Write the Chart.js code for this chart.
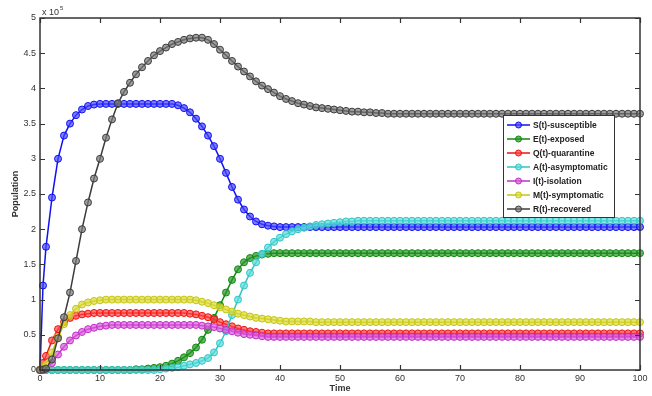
<!DOCTYPE html>
<html>
<head>
<meta charset="utf-8">
<script src="https://cdn.jsdelivr.net/npm/chart.js@4"></script>
<style>
  body { margin: 0; background: #fff; }
  canvas { display: block; }
</style>
</head>
<body>
<canvas id="myChart" width="652" height="396"></canvas>
<script>
// time grid (days) and populations in units of 10^5
let times = [0, 0.5, 1, 2, 3, 4, 5, 6, 7, 8, 9,
  10, 11, 12, 13, 14, 15, 16, 17, 18, 19,
  20, 21, 22, 23, 24, 25, 26, 27, 28, 29,
  30, 31, 32, 33, 34, 35, 36, 37, 38, 39,
  40, 41, 42, 43, 44, 45, 46, 47, 48, 49,
  50, 51, 52, 53, 54, 55, 56, 57, 58, 59,
  60, 61, 62, 63, 64, 65, 66, 67, 68, 69,
  70, 71, 72, 73, 74, 75, 76, 77, 78, 79,
  80, 81, 82, 83, 84, 85, 86, 87, 88, 89,
  90, 91, 92, 93, 94, 95, 96, 97, 98, 99,
  100];

let susceptible = [0, 1.2, 1.75, 2.45, 3.0, 3.33, 3.5, 3.62, 3.7, 3.75, 3.77,
  3.78, 3.78, 3.78, 3.78, 3.78, 3.78, 3.78, 3.78, 3.78, 3.78,
  3.78, 3.78, 3.78, 3.76, 3.72, 3.66, 3.57, 3.46, 3.33, 3.18,
  3.0, 2.8, 2.6, 2.42, 2.28, 2.18, 2.11, 2.07, 2.05, 2.04,
  2.03, 2.03, 2.03, 2.03, 2.03, 2.03, 2.03, 2.03, 2.03, 2.03,
  2.03, 2.03, 2.03, 2.03, 2.03, 2.03, 2.03, 2.03, 2.03, 2.03,
  2.03, 2.03, 2.03, 2.03, 2.03, 2.03, 2.03, 2.03, 2.03, 2.03,
  2.03, 2.03, 2.03, 2.03, 2.03, 2.03, 2.03, 2.03, 2.03, 2.03,
  2.03, 2.03, 2.03, 2.03, 2.03, 2.03, 2.03, 2.03, 2.03, 2.03,
  2.03, 2.03, 2.03, 2.03, 2.03, 2.03, 2.03, 2.03, 2.03, 2.03,
  2.03];

let exposed = [0, 0, 0, 0, 0, 0, 0, 0, 0, 0, 0,
  0, 0, 0, 0, 0, 0, 0.01, 0.01, 0.02, 0.03,
  0.04, 0.06, 0.09, 0.13, 0.18, 0.24, 0.32, 0.43, 0.57, 0.74,
  0.92, 1.1, 1.28, 1.43, 1.53, 1.59, 1.62, 1.64, 1.65, 1.66,
  1.66, 1.66, 1.66, 1.66, 1.66, 1.66, 1.66, 1.66, 1.66, 1.66,
  1.66, 1.66, 1.66, 1.66, 1.66, 1.66, 1.66, 1.66, 1.66, 1.66,
  1.66, 1.66, 1.66, 1.66, 1.66, 1.66, 1.66, 1.66, 1.66, 1.66,
  1.66, 1.66, 1.66, 1.66, 1.66, 1.66, 1.66, 1.66, 1.66, 1.66,
  1.66, 1.66, 1.66, 1.66, 1.66, 1.66, 1.66, 1.66, 1.66, 1.66,
  1.66, 1.66, 1.66, 1.66, 1.66, 1.66, 1.66, 1.66, 1.66, 1.66,
  1.66];

let quarantine = [0, 0.1, 0.2, 0.42, 0.58, 0.68, 0.74, 0.77, 0.79, 0.8, 0.81,
  0.81, 0.81, 0.81, 0.81, 0.81, 0.81, 0.81, 0.81, 0.81, 0.81,
  0.81, 0.81, 0.81, 0.81, 0.81, 0.8, 0.79, 0.77, 0.75, 0.72,
  0.68, 0.65, 0.62, 0.59, 0.57, 0.55, 0.54, 0.53, 0.52, 0.52,
  0.52, 0.52, 0.52, 0.52, 0.52, 0.52, 0.52, 0.52, 0.52, 0.52,
  0.52, 0.52, 0.52, 0.52, 0.52, 0.52, 0.52, 0.52, 0.52, 0.52,
  0.52, 0.52, 0.52, 0.52, 0.52, 0.52, 0.52, 0.52, 0.52, 0.52,
  0.52, 0.52, 0.52, 0.52, 0.52, 0.52, 0.52, 0.52, 0.52, 0.52,
  0.52, 0.52, 0.52, 0.52, 0.52, 0.52, 0.52, 0.52, 0.52, 0.52,
  0.52, 0.52, 0.52, 0.52, 0.52, 0.52, 0.52, 0.52, 0.52, 0.52,
  0.52];

let asymptomatic = [0, 0, 0, 0, 0, 0, 0, 0, 0, 0, 0,
  0, 0, 0, 0, 0, 0, 0, 0, 0, 0,
  0.01, 0.02, 0.03, 0.04, 0.06, 0.08, 0.1, 0.13, 0.17, 0.25,
  0.38, 0.55, 0.78, 1.0, 1.2, 1.38, 1.53, 1.65, 1.74, 1.82,
  1.88, 1.93, 1.97, 2.0, 2.02, 2.04, 2.06, 2.07, 2.08, 2.09,
  2.1, 2.11, 2.11, 2.12, 2.12, 2.12, 2.12, 2.12, 2.12, 2.12,
  2.12, 2.12, 2.12, 2.12, 2.12, 2.12, 2.12, 2.12, 2.12, 2.12,
  2.12, 2.12, 2.12, 2.12, 2.12, 2.12, 2.12, 2.12, 2.12, 2.12,
  2.12, 2.12, 2.12, 2.12, 2.12, 2.12, 2.12, 2.12, 2.12, 2.12,
  2.12, 2.12, 2.12, 2.12, 2.12, 2.12, 2.12, 2.12, 2.12, 2.12,
  2.12];

let isolation = [0, 0.005, 0.02, 0.1, 0.22, 0.33, 0.42, 0.49, 0.54, 0.58, 0.6,
  0.62, 0.63, 0.64, 0.64, 0.64, 0.64, 0.64, 0.64, 0.64, 0.64,
  0.64, 0.64, 0.64, 0.64, 0.64, 0.64, 0.64, 0.63, 0.62, 0.61,
  0.59, 0.57, 0.55, 0.53, 0.51, 0.5, 0.49, 0.48, 0.47, 0.47,
  0.47, 0.47, 0.47, 0.47, 0.47, 0.47, 0.47, 0.47, 0.47, 0.47,
  0.47, 0.47, 0.47, 0.47, 0.47, 0.47, 0.47, 0.47, 0.47, 0.47,
  0.47, 0.47, 0.47, 0.47, 0.47, 0.47, 0.47, 0.47, 0.47, 0.47,
  0.47, 0.47, 0.47, 0.47, 0.47, 0.47, 0.47, 0.47, 0.47, 0.47,
  0.47, 0.47, 0.47, 0.47, 0.47, 0.47, 0.47, 0.47, 0.47, 0.47,
  0.47, 0.47, 0.47, 0.47, 0.47, 0.47, 0.47, 0.47, 0.47, 0.47,
  0.47];

let symptomatic = [0, 0.03, 0.08, 0.25, 0.47, 0.65, 0.78, 0.87, 0.93, 0.96, 0.98,
  0.99, 1.0, 1.0, 1.0, 1.0, 1.0, 1.0, 1.0, 1.0, 1.0,
  1.0, 1.0, 1.0, 1.0, 1.0, 1.0, 0.99, 0.97, 0.95, 0.92,
  0.89, 0.86, 0.83, 0.8, 0.78, 0.76, 0.74, 0.73, 0.72, 0.71,
  0.7, 0.69, 0.69, 0.69, 0.69, 0.69, 0.68, 0.68, 0.68, 0.68,
  0.68, 0.68, 0.68, 0.68, 0.68, 0.68, 0.68, 0.68, 0.68, 0.68,
  0.68, 0.68, 0.68, 0.68, 0.68, 0.68, 0.68, 0.68, 0.68, 0.68,
  0.68, 0.68, 0.68, 0.68, 0.68, 0.68, 0.68, 0.68, 0.68, 0.68,
  0.68, 0.68, 0.68, 0.68, 0.68, 0.68, 0.68, 0.68, 0.68, 0.68,
  0.68, 0.68, 0.68, 0.68, 0.68, 0.68, 0.68, 0.68, 0.68, 0.68,
  0.68];

let recovered = [0, 0.005, 0.02, 0.15, 0.45, 0.75, 1.1, 1.55, 2.0, 2.38, 2.72,
  3.0, 3.3, 3.56, 3.79, 3.95, 4.08, 4.2, 4.3, 4.39, 4.47,
  4.53, 4.58, 4.63, 4.66, 4.69, 4.71, 4.72, 4.72, 4.69, 4.63,
  4.55, 4.47, 4.39, 4.31, 4.24, 4.17, 4.1, 4.04, 3.99, 3.94,
  3.89, 3.85, 3.82, 3.79, 3.77, 3.75, 3.73, 3.72, 3.71, 3.7,
  3.69, 3.68, 3.67, 3.67, 3.66, 3.66, 3.65, 3.65, 3.64, 3.64,
  3.64, 3.64, 3.64, 3.64, 3.64, 3.64, 3.64, 3.64, 3.64, 3.64,
  3.64, 3.64, 3.64, 3.64, 3.64, 3.64, 3.64, 3.64, 3.64, 3.64,
  3.64, 3.64, 3.64, 3.64, 3.64, 3.64, 3.64, 3.64, 3.64, 3.64,
  3.64, 3.64, 3.64, 3.64, 3.64, 3.64, 3.64, 3.64, 3.64, 3.64,
  3.64];

let labels = ['S(t)-susceptible', 'E(t)-exposed', 'Q(t)-quarantine', 'A(t)-asymptomatic',
  'I(t)-isolation', 'M(t)-symptomatic', 'R(t)-recovered'];
let series = [susceptible, exposed, quarantine, asymptomatic, isolation, symptomatic, recovered];
let lineColors = ['#1010f0', '#108a10', '#f01010', '#30c4c4', '#c030c8', '#c4c410', '#3c3c3c'];
let faceColors = ['rgba(70,70,255,0.7)', 'rgba(40,150,40,0.7)', 'rgba(255,70,70,0.7)',
  'rgba(90,220,220,0.7)', 'rgba(220,90,220,0.7)', 'rgba(220,220,60,0.7)', 'rgba(120,120,120,0.7)'];

const FONT = 'Liberation Sans';

// box, inward ticks on all four sides and the x10^5 exponent
const framePlugin = {
    id: 'frame',
    afterDraw(chart) {
        const {ctx, chartArea: a, scales: {x, y}} = chart;
        ctx.save();
        ctx.strokeStyle = '#333';
        ctx.lineWidth = 1.5;
        ctx.strokeRect(a.left, a.top, a.right - a.left, a.bottom - a.top);
        ctx.lineWidth = 1.2;
        ctx.beginPath();
        x.ticks.forEach(t => {
            const px = Math.round(x.getPixelForValue(t.value)) + 0.5;
            ctx.moveTo(px, a.bottom); ctx.lineTo(px, a.bottom - 5);
            ctx.moveTo(px, a.top); ctx.lineTo(px, a.top + 5);
        });
        y.ticks.forEach(t => {
            const py = Math.round(y.getPixelForValue(t.value)) + 0.5;
            ctx.moveTo(a.left, py); ctx.lineTo(a.left + 5, py);
            ctx.moveTo(a.right, py); ctx.lineTo(a.right - 5, py);
        });
        ctx.stroke();
        ctx.fillStyle = '#333';
        ctx.font = '9px ' + FONT;
        ctx.textBaseline = 'alphabetic';
        ctx.fillText('x 10', a.left + 2, a.top - 3);
        const w = ctx.measureText('x 10').width;
        ctx.font = '6px ' + FONT;
        ctx.fillText('5', a.left + 3 + w, a.top - 8);
        ctx.restore();
    }
};

// MATLAB-style boxed legend inside the plot
const boxLegend = {
    id: 'boxLegend',
    afterDraw(chart) {
        const ctx = chart.ctx;
        const left = 503, top = 115, width = 111, height = 102, row = 14;
        ctx.save();
        ctx.fillStyle = '#fff';
        ctx.fillRect(left, top, width, height);
        ctx.strokeStyle = '#333';
        ctx.lineWidth = 1;
        ctx.strokeRect(left + 0.5, top + 0.5, width, height);
        ctx.font = 'bold 8.5px ' + FONT;
        ctx.textBaseline = 'middle';
        chart.data.datasets.forEach((ds, i) => {
            const cy = top + 10 + i * row;
            ctx.strokeStyle = ds.borderColor;
            ctx.lineWidth = 1.5;
            ctx.beginPath();
            ctx.moveTo(left + 4, cy); ctx.lineTo(left + 27, cy);
            ctx.stroke();
            ctx.beginPath();
            ctx.arc(left + 15.5, cy, 3, 0, Math.PI * 2);
            ctx.fillStyle = ds.pointBackgroundColor;
            ctx.fill();
            ctx.lineWidth = 1;
            ctx.stroke();
            ctx.fillStyle = '#222';
            ctx.fillText(ds.label, left + 30, cy + 0.5);
        });
        ctx.restore();
    }
};

const chart = document.getElementById('myChart').getContext('2d');

const myChart = new Chart(chart, {
    type: 'line',
    data: {
        datasets: series.map((vals, i) => ({
            label: labels[i],
            data: times.map((t, k) => ({x: t, y: vals[k]})),
            borderColor: lineColors[i],
            backgroundColor: lineColors[i],
            borderWidth: 1.5,
            pointRadius: 3.5,
            pointBorderWidth: 1,
            pointBorderColor: lineColors[i],
            pointBackgroundColor: faceColors[i],
            tension: 0,
            clip: 5,
            order: series.length - 1 - i
        }))
    },
    options: {
        responsive: false,
        animation: false,
        devicePixelRatio: 1,
        layout: { padding: { top: 18, right: 12, left: 0, bottom: 0 } },
        plugins: {
            legend: { display: false },
            tooltip: { enabled: false }
        },
        scales: {
            x: {
                type: 'linear',
                min: 0,
                max: 100,
                grid: { display: false, drawTicks: false },
                border: { display: false },
                ticks: { stepSize: 10, color: '#333', font: { family: FONT, size: 9 }, padding: 3, maxRotation: 0 },
                title: { display: true, text: 'Time', color: '#333', font: { family: FONT, size: 9, weight: 'bold' }, padding: { top: 0, bottom: 2 } },
                afterFit: s => { s.height = 26; }
            },
            y: {
                min: 0,
                max: 5,
                grid: { display: false, drawTicks: false },
                border: { display: false },
                ticks: { stepSize: 0.5, color: '#333', font: { family: FONT, size: 9 }, padding: 4, callback: v => String(v) },
                title: { display: true, text: 'Population', color: '#333', font: { family: FONT, size: 9, weight: 'bold' }, padding: { top: 10, bottom: 0 } },
                afterFit: s => { s.width = 40; }
            }
        }
    },
    plugins: [framePlugin, boxLegend]
});
</script>
</body>
</html>
